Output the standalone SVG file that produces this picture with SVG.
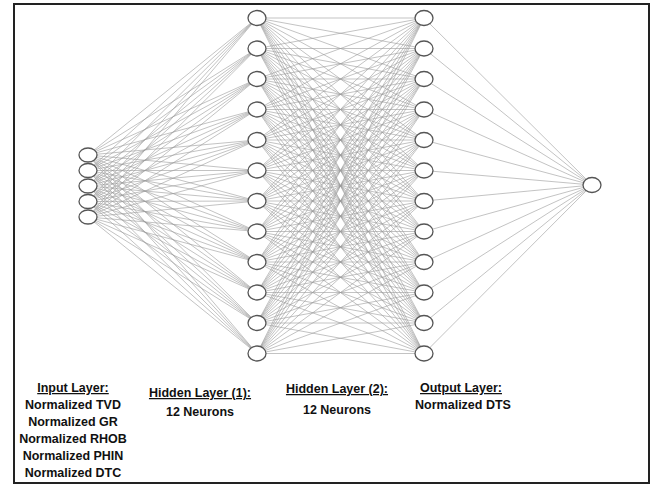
<svg xmlns="http://www.w3.org/2000/svg" width="654" height="485" viewBox="0 0 654 485">
<style>
.c path{fill:none;stroke:#9a9a9a;stroke-width:0.6}
.n ellipse{fill:#fff;stroke:#555;stroke-width:1.3}
text{font-family:"Liberation Sans",Arial,sans-serif;font-weight:bold;font-size:12.5px;fill:#111;text-anchor:middle}
.u{text-decoration:underline}
</style>
<rect x="0" y="0" width="654" height="485" fill="#fff"/>
<rect x="14" y="4" width="635" height="479" fill="none" stroke="#222" stroke-width="2"/>
<g id="connectors" class="c">
<path d="M88 155L257 18M88 155L257 48.5M88 155L257 79M88 155L257 109.5M88 155L257 140M88 155L257 170.5M88 155L257 201M88 155L257 231.5M88 155L257 262M88 155L257 292.5M88 155L257 323M88 155L257 353.5
M88 170.5L257 18M88 170.5L257 48.5M88 170.5L257 79M88 170.5L257 109.5M88 170.5L257 140M88 170.5L257 170.5M88 170.5L257 201M88 170.5L257 231.5M88 170.5L257 262M88 170.5L257 292.5M88 170.5L257 323M88 170.5L257 353.5
M88 186L257 18M88 186L257 48.5M88 186L257 79M88 186L257 109.5M88 186L257 140M88 186L257 170.5M88 186L257 201M88 186L257 231.5M88 186L257 262M88 186L257 292.5M88 186L257 323M88 186L257 353.5
M88 201.5L257 18M88 201.5L257 48.5M88 201.5L257 79M88 201.5L257 109.5M88 201.5L257 140M88 201.5L257 170.5M88 201.5L257 201M88 201.5L257 231.5M88 201.5L257 262M88 201.5L257 292.5M88 201.5L257 323M88 201.5L257 353.5
M88 217L257 18M88 217L257 48.5M88 217L257 79M88 217L257 109.5M88 217L257 140M88 217L257 170.5M88 217L257 201M88 217L257 231.5M88 217L257 262M88 217L257 292.5M88 217L257 323M88 217L257 353.5"/>
<path d="M257 18L424 18M257 18L424 48.5M257 18L424 79M257 18L424 109.5M257 18L424 140M257 18L424 170.5M257 18L424 201M257 18L424 231.5M257 18L424 262M257 18L424 292.5M257 18L424 323M257 18L424 353.5
M257 48.5L424 18M257 48.5L424 48.5M257 48.5L424 79M257 48.5L424 109.5M257 48.5L424 140M257 48.5L424 170.5M257 48.5L424 201M257 48.5L424 231.5M257 48.5L424 262M257 48.5L424 292.5M257 48.5L424 323M257 48.5L424 353.5
M257 79L424 18M257 79L424 48.5M257 79L424 79M257 79L424 109.5M257 79L424 140M257 79L424 170.5M257 79L424 201M257 79L424 231.5M257 79L424 262M257 79L424 292.5M257 79L424 323M257 79L424 353.5
M257 109.5L424 18M257 109.5L424 48.5M257 109.5L424 79M257 109.5L424 109.5M257 109.5L424 140M257 109.5L424 170.5M257 109.5L424 201M257 109.5L424 231.5M257 109.5L424 262M257 109.5L424 292.5M257 109.5L424 323M257 109.5L424 353.5
M257 140L424 18M257 140L424 48.5M257 140L424 79M257 140L424 109.5M257 140L424 140M257 140L424 170.5M257 140L424 201M257 140L424 231.5M257 140L424 262M257 140L424 292.5M257 140L424 323M257 140L424 353.5
M257 170.5L424 18M257 170.5L424 48.5M257 170.5L424 79M257 170.5L424 109.5M257 170.5L424 140M257 170.5L424 170.5M257 170.5L424 201M257 170.5L424 231.5M257 170.5L424 262M257 170.5L424 292.5M257 170.5L424 323M257 170.5L424 353.5
M257 201L424 18M257 201L424 48.5M257 201L424 79M257 201L424 109.5M257 201L424 140M257 201L424 170.5M257 201L424 201M257 201L424 231.5M257 201L424 262M257 201L424 292.5M257 201L424 323M257 201L424 353.5
M257 231.5L424 18M257 231.5L424 48.5M257 231.5L424 79M257 231.5L424 109.5M257 231.5L424 140M257 231.5L424 170.5M257 231.5L424 201M257 231.5L424 231.5M257 231.5L424 262M257 231.5L424 292.5M257 231.5L424 323M257 231.5L424 353.5
M257 262L424 18M257 262L424 48.5M257 262L424 79M257 262L424 109.5M257 262L424 140M257 262L424 170.5M257 262L424 201M257 262L424 231.5M257 262L424 262M257 262L424 292.5M257 262L424 323M257 262L424 353.5
M257 292.5L424 18M257 292.5L424 48.5M257 292.5L424 79M257 292.5L424 109.5M257 292.5L424 140M257 292.5L424 170.5M257 292.5L424 201M257 292.5L424 231.5M257 292.5L424 262M257 292.5L424 292.5M257 292.5L424 323M257 292.5L424 353.5
M257 323L424 18M257 323L424 48.5M257 323L424 79M257 323L424 109.5M257 323L424 140M257 323L424 170.5M257 323L424 201M257 323L424 231.5M257 323L424 262M257 323L424 292.5M257 323L424 323M257 323L424 353.5
M257 353.5L424 18M257 353.5L424 48.5M257 353.5L424 79M257 353.5L424 109.5M257 353.5L424 140M257 353.5L424 170.5M257 353.5L424 201M257 353.5L424 231.5M257 353.5L424 262M257 353.5L424 292.5M257 353.5L424 323M257 353.5L424 353.5"/>
<path d="M424 18L592 185M424 48.5L592 185M424 79L592 185M424 109.5L592 185M424 140L592 185M424 170.5L592 185M424 201L592 185M424 231.5L592 185M424 262L592 185M424 292.5L592 185M424 323L592 185M424 353.5L592 185"/>
</g>
<g id="input-layer" class="n">
<ellipse cx="88" cy="155" rx="9" ry="7"/>
<ellipse cx="88" cy="170.5" rx="9" ry="7"/>
<ellipse cx="88" cy="186" rx="9" ry="7"/>
<ellipse cx="88" cy="201.5" rx="9" ry="7"/>
<ellipse cx="88" cy="217" rx="9" ry="7"/>
</g>
<g id="hidden-layer-1" class="n">
<ellipse cx="257" cy="18" rx="9" ry="7.5"/>
<ellipse cx="257" cy="48.5" rx="9" ry="7.5"/>
<ellipse cx="257" cy="79" rx="9" ry="7.5"/>
<ellipse cx="257" cy="109.5" rx="9" ry="7.5"/>
<ellipse cx="257" cy="140" rx="9" ry="7.5"/>
<ellipse cx="257" cy="170.5" rx="9" ry="7.5"/>
<ellipse cx="257" cy="201" rx="9" ry="7.5"/>
<ellipse cx="257" cy="231.5" rx="9" ry="7.5"/>
<ellipse cx="257" cy="262" rx="9" ry="7.5"/>
<ellipse cx="257" cy="292.5" rx="9" ry="7.5"/>
<ellipse cx="257" cy="323" rx="9" ry="7.5"/>
<ellipse cx="257" cy="353.5" rx="9" ry="7.5"/>
</g>
<g id="hidden-layer-2" class="n">
<ellipse cx="424" cy="18" rx="9" ry="7.5"/>
<ellipse cx="424" cy="48.5" rx="9" ry="7.5"/>
<ellipse cx="424" cy="79" rx="9" ry="7.5"/>
<ellipse cx="424" cy="109.5" rx="9" ry="7.5"/>
<ellipse cx="424" cy="140" rx="9" ry="7.5"/>
<ellipse cx="424" cy="170.5" rx="9" ry="7.5"/>
<ellipse cx="424" cy="201" rx="9" ry="7.5"/>
<ellipse cx="424" cy="231.5" rx="9" ry="7.5"/>
<ellipse cx="424" cy="262" rx="9" ry="7.5"/>
<ellipse cx="424" cy="292.5" rx="9" ry="7.5"/>
<ellipse cx="424" cy="323" rx="9" ry="7.5"/>
<ellipse cx="424" cy="353.5" rx="9" ry="7.5"/>
</g>
<g id="output-layer" class="n">
<ellipse cx="592" cy="185" rx="9" ry="7.5"/>
</g>
<g id="labels">
<text x="73" y="392" class="u">Input Layer:</text>
<text x="73" y="409">Normalized TVD</text>
<text x="73" y="426">Normalized GR</text>
<text x="73" y="443">Normalized RHOB</text>
<text x="73" y="460">Normalized PHIN</text>
<text x="73" y="477">Normalized DTC</text>
<text x="200" y="397" class="u">Hidden Layer (1):</text>
<text x="200" y="416">12 Neurons</text>
<text x="337" y="393" class="u">Hidden Layer (2):</text>
<text x="337" y="414">12 Neurons</text>
<text x="461" y="392" class="u">Output Layer:</text>
<text x="463" y="409">Normalized DTS</text>
</g>
</svg>
